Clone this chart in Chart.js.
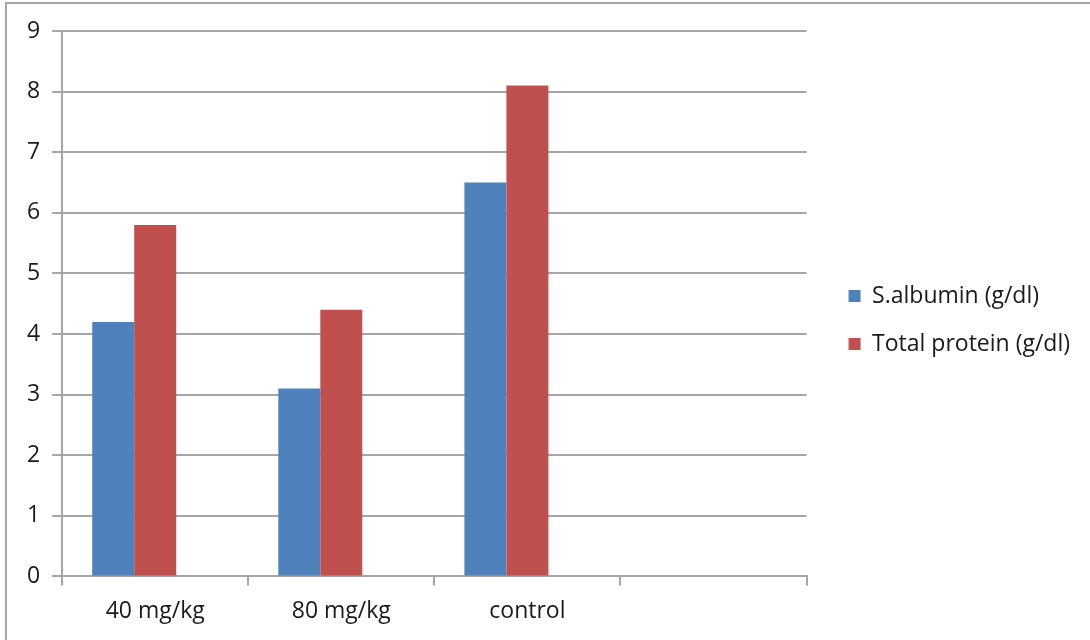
<!DOCTYPE html>
<html>
<head>
<meta charset="utf-8">
<script src="https://cdn.jsdelivr.net/npm/chart.js@4/dist/chart.umd.min.js"></script>
<style>
    body { margin: 0; background: white; }
    .frame {
        position: absolute;
        left: 5px;
        top: 2px;
        width: 1100px;
        height: 660px;
        border-top: 2px solid #a6a6a6;
        border-left: 2px solid #a6a6a6;
    }
    .wrap { position: absolute; left: 0; top: 0; width: 1090px; height: 640px; }
</style>
</head>
<body>
<div class="frame"></div>
<div class="wrap"><canvas id="bar-chart"></canvas></div>
<script>
const categories = ['40 mg/kg', '80 mg/kg', 'control', ''];
const albumin = [4.2, 3.1, 6.5, null];
const totalProtein = [5.8, 4.4, 8.1, null];
// the original sheet has a third, empty series that keeps its slot in each group
const emptySeries = [null, null, null, null];
const yTicks = [0, 1, 2, 3, 4, 5, 6, 7, 8, 9];

const gridColor = '#a6a6a6';
const textColor = '#1a1a1a';
const legendGap = 17;
const legendLift = 14;

// widen the legend box so there is extra room between plot and legend,
// then move the legend itself back to the right (and up a bit)
const legendSpacer = {
    id: 'legendSpacer',
    beforeLayout(chart) {
        const legend = chart.legend;
        if (legend && !legend._spaced) {
            const fit = legend.fit;
            legend.fit = function () {
                fit.call(this);
                this.width += legendGap;
            };
            legend._spaced = true;
        }
    },
    afterLayout(chart) {
        if (chart.legend) {
            chart.legend.left += legendGap;
            chart.legend.top -= legendLift;
            chart.legend.bottom -= legendLift;
        }
    }
};

let ctx = document.getElementById('bar-chart').getContext('2d');

let chart = new Chart(ctx, {
    type: 'bar',
    data: {
        labels: categories,
        datasets: [{
            label: 'S.albumin (g/dl)',
            data: albumin,
            backgroundColor: '#4f81bd'
        },
        {
            label: 'Total protein (g/dl)',
            data: totalProtein,
            backgroundColor: '#c0504d'
        },
        {
            label: '',
            data: emptySeries,
            backgroundColor: '#9bbb59'
        }]
    },
    options: {
        responsive: true,
        maintainAspectRatio: false,
        animation: false,
        datasets: {
            bar: {
                categoryPercentage: 0.677,
                barPercentage: 1
            }
        },
        layout: {
            padding: { left: 15, top: 31, right: 10, bottom: 3 }
        },
        plugins: {
            legend: {
                position: 'right',
                labels: {
                    boxWidth: 12,
                    boxHeight: 12,
                    padding: 25,
                    color: textColor,
                    font: { family: 'Open Sans', size: 23 },
                    filter: (item) => item.text !== ''
                }
            },
            tooltip: { enabled: false }
        },
        scales: {
            x: {
                grid: {
                    offset: true,
                    drawOnChartArea: false,
                    color: gridColor,
                    lineWidth: 2,
                    tickLength: 9
                },
                border: { color: gridColor, width: 2 },
                ticks: {
                    color: textColor,
                    padding: 12,
                    font: { family: 'Open Sans', size: 23 }
                }
            },
            y: {
                min: 0,
                max: 9,
                afterBuildTicks: (axis) => {
                    axis.ticks = yTicks.map(v => ({ value: v }));
                },
                grid: {
                    color: gridColor,
                    lineWidth: 2,
                    tickLength: 10
                },
                border: { color: gridColor, width: 2 },
                ticks: {
                    color: textColor,
                    padding: 12,
                    font: { family: 'Open Sans', size: 23 }
                }
            }
        }
    },
    plugins: [legendSpacer]
});
</script>
</body>
</html>
